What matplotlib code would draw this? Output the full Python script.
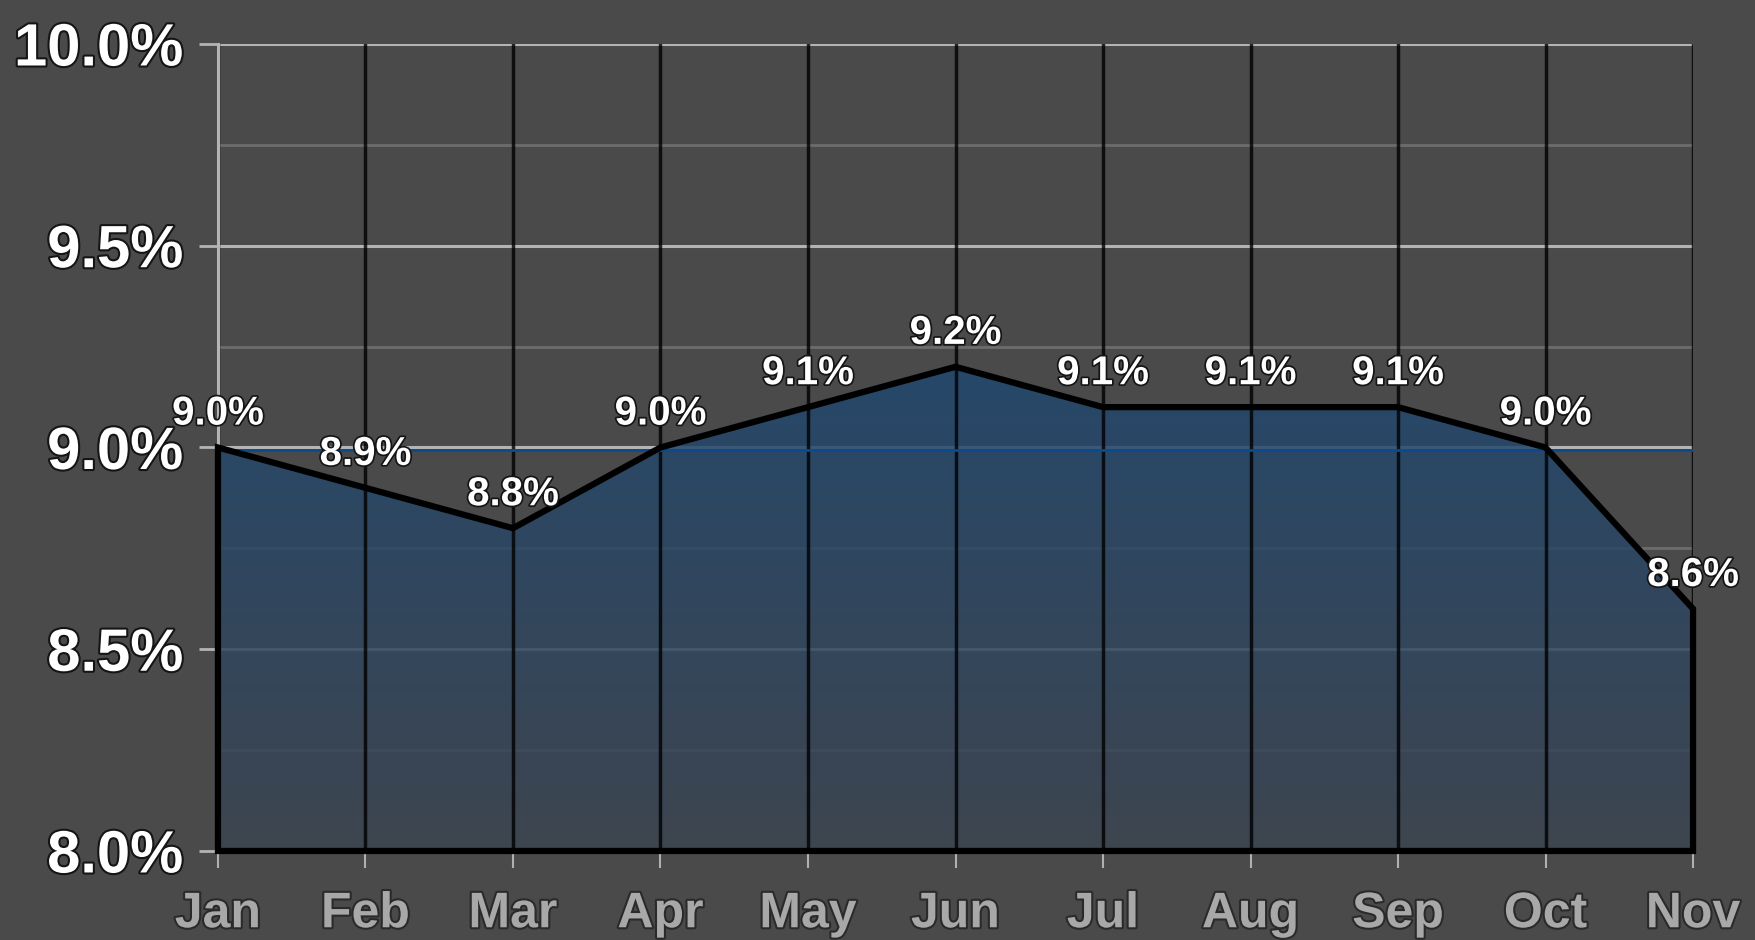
import numpy as np
from matplotlib import pyplot as plt
from matplotlib import patheffects as pe
from matplotlib import transforms as mtransforms
from matplotlib.colors import LinearSegmentedColormap
from matplotlib.patches import Polygon

months = ["Jan", "Feb", "Mar", "Apr", "May", "Jun", "Jul", "Aug", "Sep", "Oct", "Nov"]
rate = [9.0, 8.9, 8.8, 9.0, 9.1, 9.2, 9.1, 9.1, 9.1, 9.0, 8.6]
y_major = [8.0, 8.5, 9.0, 9.5, 10.0]
y_minor = [8.25, 8.75, 9.25, 9.75]

BG = "#4a4a4a"
plt.rcParams["font.family"] = ["Liberation Sans", "DejaVu Sans"]
plt.rcParams["font.weight"] = "bold"

fig = plt.figure(figsize=(17.55, 9.40), dpi=100, facecolor=BG)
ax = fig.add_axes([0.1242, 0.0947, 0.9647 - 0.1242, 0.9532 - 0.0947])
ax.set_facecolor(BG)

x = np.arange(len(months))
ax.set_xlim(x[0], x[-1])
ax.set_ylim(8.0, 10.0)

# grid (horizontal below the area, vertical drawn over it, semi-opaque)
ax.set_axisbelow(True)
ax.set_xticks(x)
ax.set_yticks(y_major)
ax.set_yticks(y_minor, minor=True)
ax.grid(axis="y", which="major", color="#b4b4b4", lw=2.2)
ax.grid(axis="y", which="minor", color="#6c6c6c", lw=2.0)
for xi in ax.get_xticks():
    ax.axvline(xi, color="black", alpha=0.8, lw=2.5, zorder=1.6)

for s in ["top", "right", "bottom"]:
    ax.spines[s].set_visible(False)
ax.spines["left"].set_color("#b4b4b4")
ax.spines["left"].set_linewidth(2.2)

# gradient area
verts = [(x[0], 8.0)] + list(zip(x, rate)) + [(x[-1], 8.0)]
poly = Polygon(verts, closed=True, facecolor="none", edgecolor="none")
ax.add_patch(poly)
cmap = LinearSegmentedColormap.from_list("area", ["#3c4551", "#1f4871"])
grad = np.linspace(0, 1, 256).reshape(-1, 1)
img = ax.imshow(grad, extent=[x[0], x[-1], 8.0, 9.25], origin="lower",
                aspect="auto", cmap=cmap, alpha=0.85, zorder=1.5)
img.set_clip_path(poly)
ax.set_xlim(x[0], x[-1])
ax.set_ylim(8.0, 10.0)

# blue reference line at 9.0 just under the grid line
off = mtransforms.offset_copy(ax.get_yaxis_transform(), fig=fig, x=0, y=-2.5, units="dots")
ax.plot([0, 1], [9.0, 9.0], transform=off, color="#0c4a8e", lw=2.0, zorder=2)

outline = Polygon(verts, closed=True, facecolor="none", edgecolor="black",
                  lw=4.5, joinstyle="miter", zorder=3, clip_on=False)
ax.add_patch(outline)

stroke = [pe.withStroke(linewidth=2.5, foreground="#151515")]
for xi, v in zip(x, rate):
    ax.annotate("{:.1f}%".format(v), (xi, v), xytext=(0, 16.5), textcoords="offset points",
                ha="center", va="baseline", fontsize=29, color="white",
                fontweight="bold", path_effects=stroke, zorder=4)

ax.set_yticklabels(["{:.1f}%".format(v) for v in y_major], fontsize=43,
                   color="white", fontweight="bold")
ax.set_xticklabels(months, fontsize=36, color="#a8a8a8", fontweight="bold")
for t in ax.get_yticklabels():
    t.set_path_effects([pe.withStroke(linewidth=3, foreground="#151515")])
for t in ax.get_xticklabels():
    t.set_path_effects([pe.withStroke(linewidth=3, foreground="#2a2a2a")])

ax.tick_params(axis="y", which="major", length=14, width=2, color="#b4b4b4", pad=11)
ax.tick_params(axis="y", which="minor", length=0)
ax.tick_params(axis="x", length=12, width=1.5, color="#b0b0b0", pad=17)

fig.savefig("out.png", dpi=100, facecolor=BG)
